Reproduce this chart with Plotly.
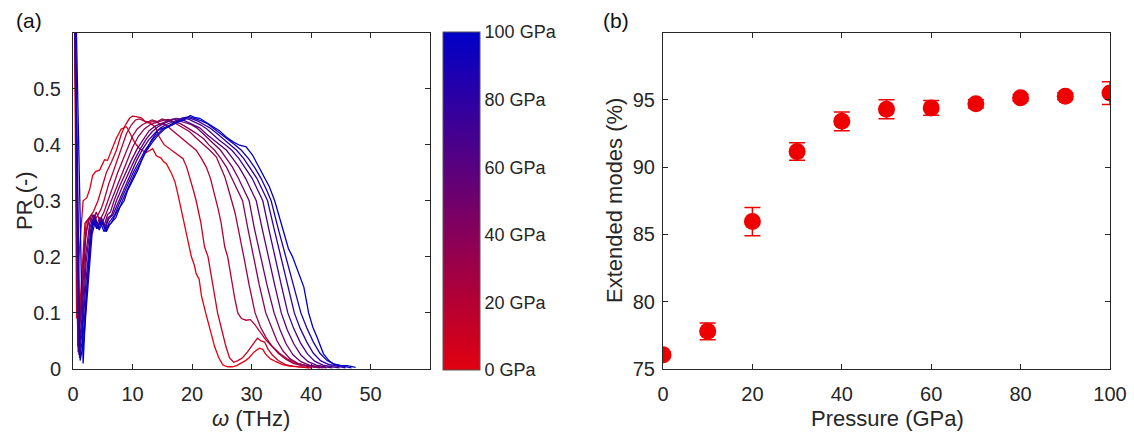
import plotly.graph_objects as go

W, H = 1134, 433

# ---------------- data: panel (a) PR spectra -----------------
pressures = [0, 10, 20, 30, 40, 50, 60, 70, 80, 90, 100]

w_0 = [0.1, 0.6, 1.0, 1.7, 2.3, 2.8, 3.3, 3.8, 4.5, 5.3, 5.8, 6.4, 7.3, 8.1, 8.6, 9.0, 9.6, 10.3, 11.0, 11.6, 12.3, 13.0, 13.4, 14.0, 14.8, 15.2, 15.7, 16.5, 17.1, 17.6, 18.5, 19.3, 19.9, 20.4, 20.7, 21.2, 21.6, 22.3, 23.0, 23.8, 24.5, 25.2, 26.0, 26.8, 27.5, 28.2, 29.0, 29.6, 30.4, 31.3, 31.9, 32.4, 33.2, 34.1, 35.2, 36.4, 38.0, 39.7]
pr_0 = [0.9, 0.09, 0.2, 0.30, 0.305, 0.32, 0.345, 0.352, 0.355, 0.373, 0.372, 0.387, 0.412, 0.428, 0.43, 0.432, 0.42, 0.405, 0.395, 0.39, 0.386, 0.39, 0.393, 0.38, 0.376, 0.37, 0.366, 0.35, 0.335, 0.313, 0.27, 0.23, 0.2, 0.185, 0.17, 0.16, 0.13, 0.10, 0.07, 0.04, 0.02, 0.007, 0.004, 0.004, 0.006, 0.01, 0.015, 0.02, 0.03, 0.037, 0.035, 0.026, 0.018, 0.013, 0.008, 0.005, 0.003, 0.002]

w_10 = [0.1, 0.8, 1.4, 2.0, 2.8, 3.4, 4.2, 5.0, 5.6, 6.5, 7.3, 8.1, 8.8, 9.5, 10.0, 10.6, 11.5, 12.2, 13.0, 13.8, 14.5, 15.3, 16.2, 17.0, 17.8, 18.5, 19.1, 19.6, 20.2, 20.7, 21.5, 22.1, 22.7, 23.5, 24.3, 25.0, 25.7, 26.3, 27.0, 27.7, 28.5, 29.3, 30.0, 30.6, 31.0, 31.6, 32.2, 32.8, 33.5, 34.5, 35.7, 37.0, 38.5, 40.0]
pr_10 = [0.9, 0.06, 0.15, 0.26, 0.271, 0.28, 0.30, 0.33, 0.35, 0.37, 0.39, 0.418, 0.435, 0.447, 0.451, 0.45, 0.448, 0.44, 0.438, 0.432, 0.414, 0.40, 0.393, 0.386, 0.38, 0.375, 0.36, 0.343, 0.32, 0.30, 0.26, 0.218, 0.20, 0.15, 0.10, 0.07, 0.04, 0.02, 0.012, 0.015, 0.02, 0.03, 0.04, 0.05, 0.055, 0.05, 0.048, 0.035, 0.025, 0.015, 0.008, 0.005, 0.003, 0.002]

w_20 = [0.1, 0.8, 1.5, 2.2, 2.9, 3.5, 4.2, 4.7, 5.2, 6.0, 6.7, 7.5, 8.3, 9.0, 9.8, 10.5, 11.2, 12.0, 12.8, 13.6, 14.5, 15.7, 16.5, 17.3, 18.2, 19.0, 19.8, 20.7, 21.6, 22.4, 23.1, 23.8, 24.4, 24.9, 25.5, 26.0, 26.6, 27.2, 27.7, 28.3, 29.1, 29.8, 30.5, 31.5, 32.4, 33.5, 34.7, 36.0, 37.5, 39.0, 40.2, 41.5]
pr_20 = [0.9, 0.05, 0.14, 0.26, 0.27, 0.262, 0.275, 0.285, 0.30, 0.33, 0.35, 0.375, 0.40, 0.42, 0.435, 0.444, 0.446, 0.442, 0.44, 0.441, 0.438, 0.435, 0.427, 0.42, 0.412, 0.405, 0.398, 0.39, 0.375, 0.36, 0.34, 0.313, 0.285, 0.26, 0.218, 0.20, 0.16, 0.125, 0.10, 0.09, 0.087, 0.088, 0.08, 0.065, 0.052, 0.04, 0.028, 0.018, 0.01, 0.007, 0.005, 0.003]

w_30 = [0.1, 0.9, 1.5, 2.2, 2.8, 3.3, 3.9, 4.5, 5.2, 5.9, 6.7, 7.5, 8.3, 9.2, 10.0, 10.8, 11.7, 12.5, 13.3, 14.2, 15.0, 15.9, 16.8, 17.7, 18.6, 19.6, 20.7, 21.8, 23.0, 24.1, 24.8, 25.5, 26.0, 26.6, 27.2, 27.7, 28.3, 28.8, 29.6, 30.6, 31.5, 32.5, 33.5, 34.5, 35.7, 37.0, 38.5, 40.0, 41.5]
pr_30 = [0.88, 0.05, 0.12, 0.245, 0.27, 0.258, 0.28, 0.265, 0.28, 0.30, 0.325, 0.35, 0.372, 0.395, 0.415, 0.428, 0.436, 0.44, 0.444, 0.441, 0.446, 0.443, 0.441, 0.435, 0.43, 0.423, 0.412, 0.402, 0.39, 0.378, 0.362, 0.343, 0.325, 0.301, 0.28, 0.254, 0.218, 0.195, 0.15, 0.10, 0.075, 0.055, 0.04, 0.028, 0.018, 0.01, 0.006, 0.004, 0.002]

w_40 = [0.1, 0.8, 1.3, 1.9, 2.6, 3.2, 3.9, 4.5, 5.0, 5.6, 6.4, 7.3, 8.2, 9.1, 10.0, 11.0, 12.0, 13.0, 14.0, 15.0, 16.0, 17.0, 18.0, 19.0, 20.0, 21.0, 22.0, 22.8, 23.8, 24.8, 25.8, 26.8, 27.7, 28.5, 29.4, 30.3, 31.3, 32.4, 33.3, 34.3, 35.3, 36.5, 37.8, 39.2, 40.6, 42.0]
pr_40 = [0.85, 0.04, 0.10, 0.22, 0.265, 0.275, 0.255, 0.27, 0.262, 0.278, 0.30, 0.325, 0.35, 0.372, 0.395, 0.415, 0.428, 0.436, 0.44, 0.443, 0.445, 0.44, 0.438, 0.432, 0.425, 0.418, 0.41, 0.40, 0.39, 0.376, 0.36, 0.338, 0.318, 0.30, 0.25, 0.20, 0.15, 0.10, 0.075, 0.05, 0.032, 0.018, 0.01, 0.006, 0.004, 0.002]

w_50 = [0.1, 0.9, 1.5, 2.1, 2.8, 3.4, 4.0, 4.6, 5.2, 5.8, 6.3, 6.9, 7.8, 8.8, 9.8, 10.8, 11.8, 12.8, 13.8, 14.8, 15.8, 16.8, 17.8, 18.8, 19.8, 20.8, 21.8, 22.8, 23.8, 24.8, 25.8, 26.8, 27.8, 28.7, 29.6, 30.5, 31.5, 32.6, 33.8, 34.8, 35.8, 37.0, 38.3, 39.7, 41.2, 42.6]
pr_50 = [0.85, 0.03, 0.09, 0.2, 0.26, 0.275, 0.25, 0.265, 0.255, 0.275, 0.28, 0.30, 0.325, 0.35, 0.372, 0.393, 0.41, 0.425, 0.433, 0.438, 0.442, 0.446, 0.443, 0.44, 0.436, 0.43, 0.42, 0.41, 0.40, 0.39, 0.375, 0.36, 0.34, 0.32, 0.30, 0.25, 0.20, 0.15, 0.10, 0.07, 0.045, 0.025, 0.013, 0.007, 0.004, 0.002]

w_60 = [0.1, 0.9, 1.6, 2.2, 2.9, 3.5, 4.1, 4.7, 5.3, 5.9, 6.5, 7.3, 8.3, 9.3, 10.3, 11.3, 12.3, 13.3, 14.3, 15.3, 16.3, 17.3, 18.3, 19.3, 20.3, 21.3, 22.3, 23.5, 24.7, 25.8, 26.8, 27.9, 29.0, 29.9, 30.8, 31.8, 32.8, 33.9, 35.0, 36.0, 37.1, 38.3, 39.5, 40.9, 42.3, 43.6]
pr_60 = [0.85, 0.03, 0.08, 0.19, 0.255, 0.27, 0.252, 0.268, 0.25, 0.27, 0.275, 0.30, 0.325, 0.35, 0.372, 0.392, 0.41, 0.423, 0.432, 0.438, 0.443, 0.447, 0.445, 0.44, 0.435, 0.43, 0.42, 0.41, 0.40, 0.39, 0.376, 0.36, 0.34, 0.32, 0.30, 0.25, 0.20, 0.15, 0.10, 0.07, 0.045, 0.025, 0.013, 0.007, 0.004, 0.002]

w_70 = [0.1, 1.0, 1.6, 2.3, 3.0, 3.6, 4.2, 4.8, 5.4, 6.0, 6.7, 7.7, 8.7, 9.7, 10.7, 11.7, 12.7, 13.7, 14.7, 15.7, 16.7, 17.7, 18.5, 19.5, 20.5, 21.5, 22.5, 23.5, 24.6, 25.6, 26.7, 27.9, 29.0, 30.1, 31.0, 31.9, 32.9, 33.9, 35.0, 36.1, 37.1, 38.2, 39.4, 40.6, 42.0, 43.5, 44.8]
pr_70 = [0.85, 0.025, 0.07, 0.17, 0.25, 0.275, 0.255, 0.27, 0.25, 0.268, 0.275, 0.30, 0.325, 0.35, 0.372, 0.392, 0.408, 0.42, 0.43, 0.436, 0.44, 0.445, 0.448, 0.445, 0.44, 0.435, 0.428, 0.418, 0.408, 0.40, 0.39, 0.375, 0.358, 0.34, 0.32, 0.30, 0.25, 0.20, 0.15, 0.10, 0.072, 0.047, 0.027, 0.014, 0.007, 0.004, 0.002]

w_80 = [0.1, 1.1, 1.7, 2.4, 3.1, 3.7, 4.3, 4.9, 5.5, 6.1, 7.0, 8.0, 9.0, 10.1, 11.1, 12.1, 13.1, 14.1, 15.1, 16.1, 17.1, 18.1, 19.0, 20.0, 21.0, 22.0, 23.0, 24.2, 25.3, 26.4, 27.5, 28.7, 29.8, 30.9, 31.8, 32.7, 33.8, 34.9, 36.0, 37.2, 38.2, 39.3, 40.4, 41.6, 43.0, 44.5, 45.8]
pr_80 = [0.85, 0.02, 0.06, 0.16, 0.245, 0.27, 0.25, 0.265, 0.245, 0.262, 0.275, 0.30, 0.325, 0.35, 0.37, 0.39, 0.405, 0.418, 0.428, 0.434, 0.44, 0.444, 0.449, 0.446, 0.442, 0.436, 0.43, 0.42, 0.41, 0.40, 0.39, 0.375, 0.358, 0.34, 0.32, 0.30, 0.25, 0.20, 0.15, 0.10, 0.072, 0.048, 0.028, 0.015, 0.008, 0.005, 0.002]

w_90 = [0.1, 1.2, 1.8, 2.5, 3.2, 3.8, 4.4, 5.0, 5.6, 6.2, 7.2, 8.3, 9.3, 10.4, 11.4, 12.4, 13.4, 14.4, 15.4, 16.4, 17.4, 18.4, 19.5, 20.5, 21.5, 22.5, 23.5, 24.8, 26.0, 27.2, 28.3, 29.5, 30.6, 31.6, 32.5, 33.3, 34.5, 35.8, 37.0, 38.3, 39.3, 40.4, 41.5, 42.7, 44.0, 45.5, 46.8]
pr_90 = [0.85, 0.015, 0.05, 0.15, 0.24, 0.265, 0.248, 0.262, 0.245, 0.258, 0.27, 0.30, 0.325, 0.35, 0.37, 0.39, 0.405, 0.418, 0.428, 0.434, 0.44, 0.445, 0.45, 0.447, 0.443, 0.438, 0.43, 0.42, 0.41, 0.40, 0.39, 0.375, 0.358, 0.34, 0.32, 0.30, 0.25, 0.20, 0.15, 0.10, 0.073, 0.048, 0.028, 0.015, 0.008, 0.005, 0.002]

w_100 = [0.1, 1.7, 2.2, 2.8, 3.4, 4.0, 4.6, 5.2, 5.8, 6.4, 7.5, 8.6, 9.2, 10.0, 10.9, 12.0, 13.2, 14.3, 15.4, 16.5, 17.6, 18.7, 19.7, 20.6, 21.3, 22.4, 23.5, 24.6, 25.7, 26.9, 28.0, 29.1, 30.2, 31.0, 31.9, 33.0, 33.9, 34.6, 35.2, 36.2, 36.9, 37.8, 38.8, 39.6, 40.3, 41.0, 42.1, 43.0, 43.8, 45.0, 46.1, 47.5]
pr_100 = [0.85, 0.01, 0.12, 0.22, 0.265, 0.25, 0.262, 0.245, 0.255, 0.26, 0.283, 0.30, 0.319, 0.335, 0.355, 0.384, 0.408, 0.426, 0.43, 0.435, 0.44, 0.444, 0.452, 0.448, 0.447, 0.44, 0.432, 0.425, 0.414, 0.405, 0.399, 0.396, 0.381, 0.365, 0.349, 0.325, 0.30, 0.275, 0.254, 0.215, 0.20, 0.175, 0.146, 0.10, 0.075, 0.057, 0.027, 0.015, 0.009, 0.006, 0.006, 0.003]

freq_sets = [w_0, w_10, w_20, w_30, w_40, w_50, w_60, w_70, w_80, w_90, w_100]
pr_sets = [pr_0, pr_10, pr_20, pr_30, pr_40, pr_50, pr_60, pr_70, pr_80, pr_90, pr_100]

# ---------------- data: panel (b) extended modes -----------------
pressure_b = [0, 10, 20, 30, 40, 50, 60, 70, 80, 90, 100]
extended = [76.05, 77.8, 85.95, 91.15, 93.4, 94.3, 94.4, 94.7, 95.15, 95.27, 95.5]
ext_err = [0.2, 0.62, 1.05, 0.65, 0.7, 0.7, 0.55, 0.3, 0.25, 0.25, 0.85]

cbar_ticks = [0, 20, 40, 60, 80, 100]
cbar_text = ["0 GPa", "20 GPa", "40 GPa", "60 GPa", "80 GPa", "100 GPa"]

# ---------------- style -----------------
RED = (225, 0, 15)
BLUE = (0, 0, 200)
FONT = "Liberation Sans, Arial, sans-serif"
TXT = "#262626"


def mix(t):
    r = round(RED[0] + (BLUE[0] - RED[0]) * t)
    g = round(RED[1] + (BLUE[1] - RED[1]) * t)
    b = round(RED[2] + (BLUE[2] - RED[2]) * t)
    return f"rgb({r},{g},{b})"


def px(x):
    return x / W


def py(y):
    return 1 - y / H


fig = go.Figure()

for p, wx, pr in zip(pressures, freq_sets, pr_sets):
    fig.add_trace(go.Scatter(
        x=wx, y=pr, mode="lines", xaxis="x", yaxis="y",
        line=dict(color=mix(p / 100), width=1.3),
        showlegend=False, hoverinfo="skip"))

# colorbar holder
fig.add_trace(go.Scatter(
    x=[None, None], y=[None, None], mode="markers", xaxis="x", yaxis="y",
    showlegend=False, hoverinfo="skip",
    marker=dict(color=[0, 100], cmin=0, cmax=100,
                colorscale=[[0, mix(0)], [0.5, mix(0.5)], [1, mix(1)]],
                showscale=True,
                colorbar=dict(
                    x=px(443), xanchor="left", xpad=0, ypad=0,
                    y=py((32 + 370) / 2), yanchor="middle",
                    len=(370 - 32) / H, lenmode="fraction",
                    thickness=37, thicknessmode="pixels",
                    outlinewidth=1, outlinecolor="#555555",
                    tickvals=cbar_ticks, ticktext=cbar_text,
                    ticks="", tickfont=dict(family=FONT, size=18, color=TXT)))))

fig.add_trace(go.Scatter(
    x=pressure_b, y=extended, mode="markers", xaxis="x2", yaxis="y2",
    marker=dict(color="rgb(238,0,0)", size=17, line=dict(width=0)),
    error_y=dict(type="data", array=ext_err, color="rgb(238,0,0)",
                 thickness=1.5, width=8),
    showlegend=False, hoverinfo="skip"))

axis_common = dict(
    showline=True, linecolor=TXT, linewidth=1, mirror="allticks",
    ticks="inside", ticklen=5, tickcolor=TXT, tickwidth=1,
    showgrid=False, zeroline=False, automargin=False,
    tickfont=dict(family=FONT, size=20, color=TXT))

ydom = [py(369), py(32.5)]

fig.update_layout(
    width=W, height=H,
    margin=dict(l=0, r=0, t=0, b=0, autoexpand=False),
    paper_bgcolor="white", plot_bgcolor="white",
    xaxis=dict(domain=[px(73), px(430)], range=[0, 60],
               tickvals=[0, 10, 20, 30, 40, 50], anchor="y",
               ticklabelstandoff=7, **axis_common),
    yaxis=dict(domain=ydom, range=[0, 0.6],
               tickvals=[0, 0.1, 0.2, 0.3, 0.4, 0.5],
               ticktext=["0", "0.1", "0.2", "0.3", "0.4", "0.5"],
               anchor="x", ticklabelstandoff=7, **axis_common),
    xaxis2=dict(domain=[px(663), px(1110)], range=[0, 100],
                tickvals=[0, 20, 40, 60, 80, 100], anchor="y2",
                ticklabelstandoff=7, **axis_common),
    yaxis2=dict(domain=ydom, range=[75, 100],
                tickvals=[75, 80, 85, 90, 95], anchor="x2",
                ticklabelstandoff=3, **axis_common),
)

ann_font = dict(family=FONT, size=22, color=TXT)


def label(x, y, text, angle=0, font=ann_font):
    fig.add_annotation(x=px(x), y=py(y), xref="paper", yref="paper",
                       xanchor="center", yanchor="middle",
                       text=text, textangle=angle, showarrow=False, font=font)


label(24, 201, "PR (-)", -90)
label(251, 418, "<i>ω</i> (THz)")
label(614, 201, "Extended modes (%)", -90)
label(887, 418, "Pressure (GPa)")
panel_font = dict(family=FONT, size=21, color="#111111")
label(29, 20, "(a)", font=panel_font)
label(616, 20, "(b)", font=panel_font)

fig.write_html("out.html")
